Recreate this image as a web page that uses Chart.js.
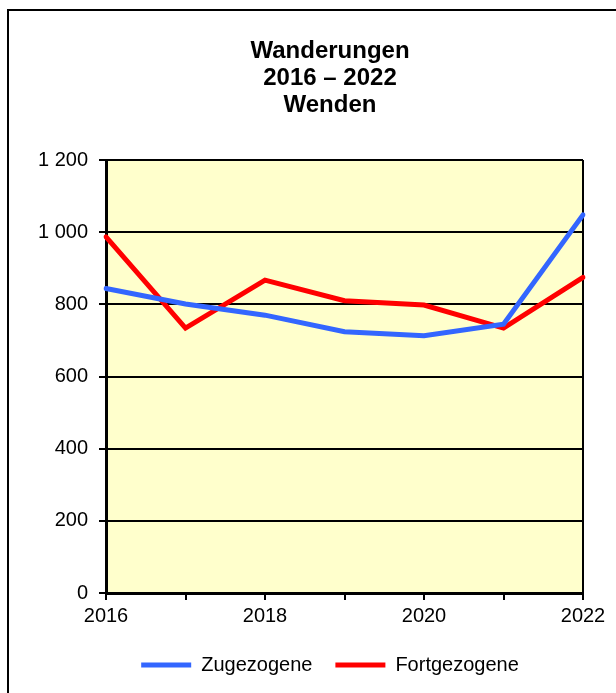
<!DOCTYPE html>
<html>
<head>
<meta charset="utf-8">
<script src="https://cdn.jsdelivr.net/npm/chart.js@4"></script>
<style>
    html, body { margin: 0; padding: 0; background: #fff; }
    #wrap { width: 616px; height: 693px; position: relative; }
</style>
</head>
<body>
<div id="wrap"><canvas id="wanderChart" width="616" height="693"></canvas></div>
<script>
const years = [2016, 2017, 2018, 2019, 2020, 2021, 2022];
const zugezogene = [844, 801, 770, 724, 713, 745, 1048];
const fortgezogene = [987, 734, 867, 810, 798, 734, 875];
const titleLines = ['Wanderungen', '2016 \u2013 2022', 'Wenden'];

const FONT = "'Liberation Sans', Arial, sans-serif";

// plot background + outer frame
const framePlugin = {
    id: 'framePlugin',
    beforeDraw(chart) {
        const ctx = chart.ctx;
        const a = chart.chartArea;
        ctx.save();
        ctx.fillStyle = '#ffffcc';
        ctx.fillRect(a.left, a.top, a.right - a.left, a.bottom - a.top);
        ctx.strokeStyle = '#000';
        ctx.lineWidth = 2;
        ctx.strokeRect(8, 10, 700, 800);
        ctx.restore();
    }
};

function formatThousands(v) {
    return String(v).replace(/\B(?=(\d{3})+(?!\d))/g, ' ');
}

document.addEventListener('DOMContentLoaded', function() {
    const ctx = document.getElementById('wanderChart');
    new Chart(ctx, {
        type: 'line',
        data: {
            labels: years,
            datasets: [{
                label: 'Zugezogene',
                data: zugezogene,
                borderColor: '#3366ff',
                backgroundColor: '#3366ff',
                borderWidth: 5,
                borderCapStyle: 'round',
                pointRadius: 0,
                tension: 0
            }, {
                label: 'Fortgezogene',
                data: fortgezogene,
                borderColor: '#ff0000',
                backgroundColor: '#ff0000',
                borderWidth: 5,
                borderCapStyle: 'round',
                pointRadius: 0,
                tension: 0
            }]
        },
        options: {
            responsive: false,
            animation: false,
            devicePixelRatio: 1,
            layout: { padding: { left: 77, right: 33, top: 0, bottom: 8 } },
            scales: {
                x: {
                    offset: false,
                    grid: {
                        color: c => c.index === years.length - 1 ? '#000' : 'rgba(0,0,0,0)',
                        lineWidth: 2,
                        tickColor: '#000',
                        tickLength: 7
                    },
                    border: { color: '#000', width: 3 },
                    ticks: {
                        autoSkip: false,
                        maxRotation: 0,
                        color: '#000',
                        font: { family: FONT, size: 20 },
                        padding: 4,
                        callback: (v, i) => years[i] % 2 === 0 ? String(years[i]) : ''
                    }
                },
                y: {
                    min: 0,
                    max: 1200,
                    afterFit: s => { s.width = 29; },
                    grid: { color: '#000', lineWidth: 2, tickColor: '#000', tickLength: 7 },
                    border: { color: '#000', width: 3 },
                    ticks: {
                        stepSize: 200,
                        color: '#000',
                        font: { family: FONT, size: 20 },
                        // mirrored + negative padding so the labels sit left of the axis
                        // without being clipped to the narrow scale box
                        mirror: true,
                        crossAlign: 'far',
                        padding: -68,
                        callback: v => formatThousands(v)
                    }
                }
            },
            plugins: {
                title: {
                    display: true,
                    text: titleLines,
                    color: '#000',
                    font: { family: FONT, size: 24, weight: 'bold', lineHeight: 1.125 },
                    padding: { top: 38, bottom: 41 }
                },
                legend: {
                    position: 'bottom',
                    labels: {
                        usePointStyle: true,
                        pointStyle: 'line',
                        pointStyleWidth: 50,
                        color: '#000',
                        font: { family: FONT, size: 20 },
                        padding: 23
                    }
                },
                tooltip: { enabled: false }
            }
        },
        plugins: [framePlugin]
    });
});
</script>
</body>
</html>
